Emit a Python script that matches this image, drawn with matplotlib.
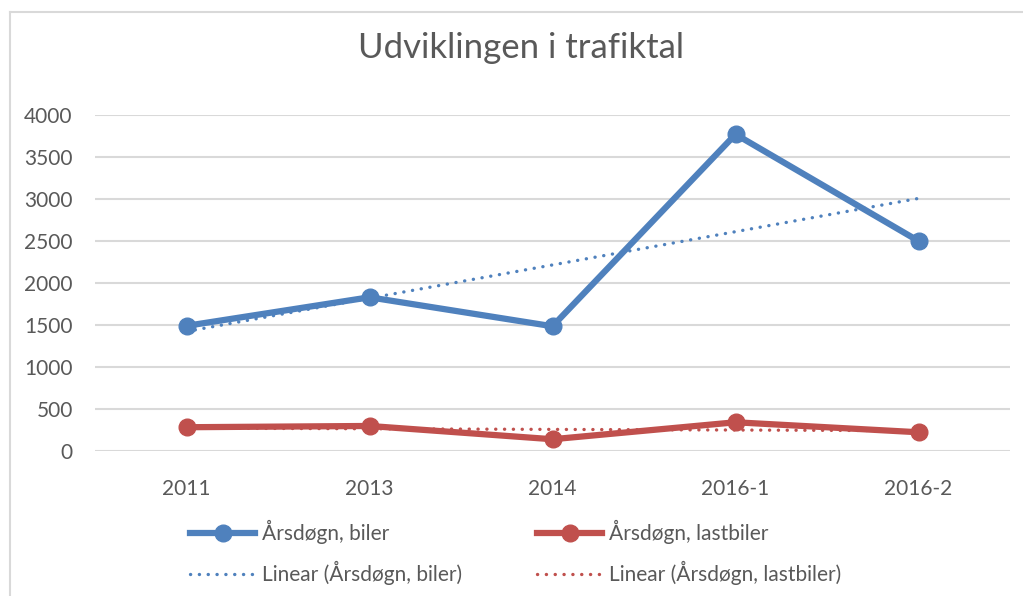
import numpy as np
import matplotlib
matplotlib.use("Agg")
from matplotlib import pyplot as plt
from matplotlib.lines import Line2D

# data
categories = ["2011", "2013", "2014", "2016-1", "2016-2"]
biler = [1490, 1830, 1485, 3770, 2500]
lastbiler = [283, 298, 140, 342, 223]

blue = "#4F81BD"
red = "#C0504D"
grid_col = "#D9D9D9"
text_col = "#595959"

plt.rcParams['font.family'] = ['Lato', 'DejaVu Sans']

fig = plt.figure(figsize=(10.23, 5.96), dpi=100)
W, H = 1023, 596
# plot area in pixels: left 95, right 1010, top 115, bottom 451
ax = fig.add_axes([95 / W, 1 - 451 / H, (1010 - 95) / W, (451 - 115) / H])

x = np.arange(len(categories))
dots = (0, (0.05, 2.6))

# trend lines (least squares, like Excel's "Linear" trendline)
kb = np.polyfit(x, biler, 1)
kl = np.polyfit(x, lastbiler, 1)
tb, = ax.plot(x, np.polyval(kb, x), color=blue, lw=2.4, ls=dots,
              dash_capstyle='round', zorder=2)
tl, = ax.plot(x, np.polyval(kl, x), color=red, lw=2.4, ls=dots,
              dash_capstyle='round', zorder=2)

lb, = ax.plot(x, biler, color=blue, lw=4.5, marker='o', ms=12, zorder=3)
ll, = ax.plot(x, lastbiler, color=red, lw=4.5, marker='o', ms=12, zorder=3)

ax.set_xlim(-0.5, len(categories) - 0.5)
ax.set_ylim(0, 4000)
ax.set_yticks(np.arange(0, 4001, 500))
ax.set_xticks(x)
ax.set_xticklabels(categories)
ax.yaxis.grid(True, color=grid_col, lw=1.5)
ax.set_axisbelow(True)
for s in ax.spines.values():
    s.set_visible(False)
ax.tick_params(axis='both', length=0, labelsize=15, labelcolor=text_col)
ax.tick_params(axis='y', pad=16)
ax.tick_params(axis='x', pad=20)

fig.text(521 / W, 1 - 48 / H, "Udviklingen i trafiktal", ha='center', va='center',
         fontsize=25, color=text_col)

handles = [lb, tb, ll, tl]
labels = ["Årsdøgn, biler", "Linear (Årsdøgn, biler)",
          "Årsdøgn, lastbiler", "Linear (Årsdøgn, lastbiler)"]
fig.legend(handles, labels, ncol=2, loc='upper left',
           bbox_to_anchor=(182 / W, 1 - 512 / H), frameon=False, fontsize=15,
           labelcolor=text_col, handlelength=3.1, handletextpad=0.35,
           columnspacing=3.6, labelspacing=0.8, borderaxespad=0)

# chart border (only top and left are visible in the reference)
fig.add_artist(Line2D([10 / W, 10 / W], [0, 1 - 12 / H], color=grid_col, lw=1.5))
fig.add_artist(Line2D([10 / W, 1], [1 - 12 / H, 1 - 12 / H], color=grid_col, lw=1.5))

fig.savefig("out.png", dpi=100)
